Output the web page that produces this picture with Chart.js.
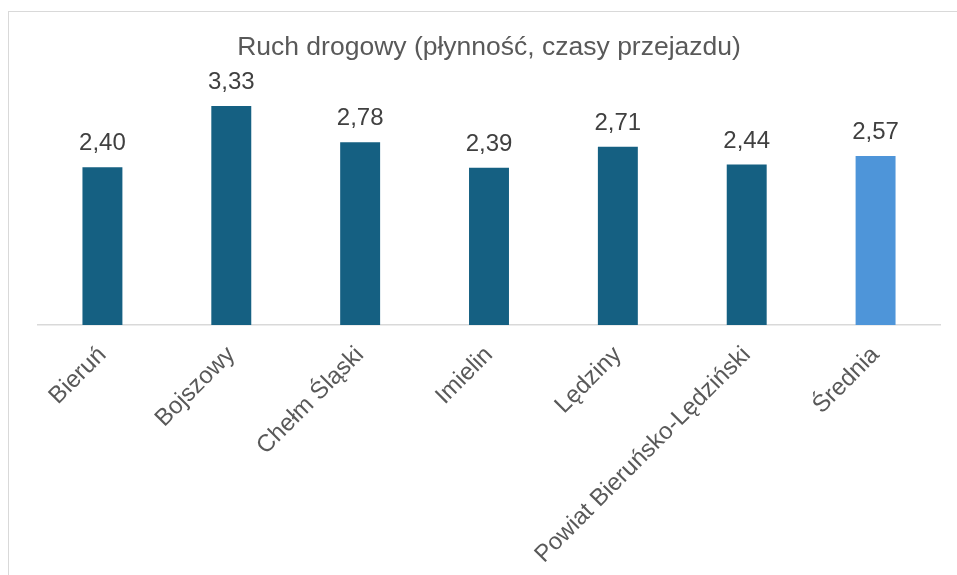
<!DOCTYPE html>
<html lang="pl">
<head>
<meta charset="utf-8">
<title>Ruch drogowy</title>
<script src="https://cdn.jsdelivr.net/npm/chart.js@4"></script>
<style>
  html, body { margin: 0; padding: 0; width: 957px; height: 575px; overflow: hidden; background: #fff; }
  #ramka { position: absolute; left: 8px; top: 11px; width: 1100px; height: 1000px; border: 1px solid #d9d9d9; }
  #wrap { position: absolute; left: 0; top: 0; width: 957px; height: 575px; }
</style>
</head>
<body>
<div id="ramka"></div>
<div id="wrap"><canvas id="wykres"></canvas></div>
<script>
// dane
const gminy = ['Bieruń', 'Bojszowy', 'Chełm Śląski', 'Imielin', 'Lędziny', 'Powiat Bieruńsko-Lędziński', 'Średnia'];
const wartosci = [2.40, 3.33, 2.78, 2.39, 2.71, 2.44, 2.57];
const kolory = ['#156082', '#156082', '#156082', '#156082', '#156082', '#156082', '#4e95d9'];

const czcionka = '"Liberation Sans", Arial, sans-serif';

// etykiety z wartościami nad słupkami
const etykietyWartosci = {
    id: 'etykietyWartosci',
    afterDatasetsDraw(chart) {
        const ctx = chart.ctx;
        const meta = chart.getDatasetMeta(0);
        ctx.save();
        ctx.font = '24px ' + czcionka;
        ctx.fillStyle = '#404040';
        ctx.textAlign = 'center';
        ctx.textBaseline = 'alphabetic';
        meta.data.forEach(function(bar, i) {
            const txt = wartosci[i].toFixed(2).replace('.', ',');
            ctx.fillText(txt, bar.x, bar.y - 17);
        });
        ctx.restore();
    }
};

new Chart(document.getElementById('wykres').getContext('2d'), {
    type: 'bar',
    data: {
        labels: gminy,
        datasets: [{
            data: wartosci,
            backgroundColor: kolory,
            borderWidth: 0,
            barPercentage: 0.31,
            categoryPercentage: 1
        }]
    },
    options: {
        responsive: true,
        maintainAspectRatio: false,
        animation: false,
        layout: { padding: { left: 38, right: 17, top: 32, bottom: 0 } },
        scales: {
            x: {
                grid: { display: false },
                border: { display: true, color: '#d9d9d9', width: 1.5 },
                ticks: {
                    font: { size: 24, family: czcionka },
                    color: '#595959',
                    minRotation: 45,
                    maxRotation: 45,
                    padding: 8
                },
                afterFit(scale) { scale.height = 250; }
            },
            y: {
                display: false,
                min: 0,
                max: 3.5
            }
        },
        plugins: {
            legend: { display: false },
            tooltip: { enabled: false },
            title: {
                display: true,
                text: 'Ruch drogowy (płynność, czasy przejazdu)',
                font: { size: 26.5, weight: 'normal', family: czcionka, lineHeight: 1.2 },
                color: '#595959',
                padding: { top: 0, bottom: 31 }
            }
        }
    },
    plugins: [etykietyWartosci]
});
</script>
</body>
</html>
